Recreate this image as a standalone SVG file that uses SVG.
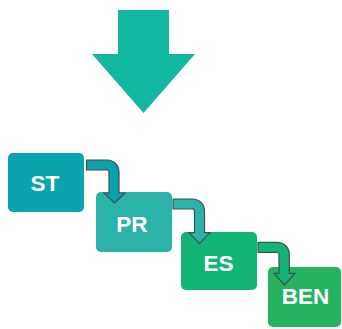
<svg xmlns="http://www.w3.org/2000/svg" width="342" height="329" viewBox="0 0 342 329">
  <style>
    .box { stroke: none; }
    .lbl { font-family: "Liberation Sans", Arial, sans-serif; font-weight: bold; font-size: 22.5px; fill: #ffffff; text-anchor: middle; }
    .conn { stroke: #3d5053; stroke-width: 1.2; stroke-linejoin: miter; }
  </style>

  <!-- big downward arrow -->
  <g id="main-arrow">
    <polygon points="118,10 169,10 169,54 195,54 143.5,113 92,54 118,54" fill="#12b9a0"/>
  </g>

  <!-- stages -->
  <g id="node-st">
    <rect class="box" x="8" y="153" width="76" height="59" rx="5" fill="#0aa3ae"/>
    <text class="lbl" x="45" y="190.5">ST</text>
  </g>
  <g id="node-pr">
    <rect class="box" x="96" y="192" width="76" height="60" rx="5" fill="#2cb3a7"/>
    <text class="lbl" x="132" y="231.5">PR</text>
  </g>
  <g id="node-es">
    <rect class="box" x="181" y="232" width="76" height="58" rx="5" fill="#13b576"/>
    <text class="lbl" x="218.5" y="271">ES</text>
  </g>
  <g id="node-ben">
    <rect class="box" x="268" y="267" width="73" height="60" rx="5" fill="#26b35f"/>
    <text class="lbl" x="305.5" y="303.5">BEN</text>
  </g>

  <!-- bent connectors between stages -->
  <g id="connectors">
    <path class="conn" fill="#0ba1ae" d="M86.5,160 H107 A12,12 0 0 1 119,172 V193 H125 L114.5,203 L104,193 H109 V172 A2,2 0 0 0 107,170 H86.5 Z"/>
    <path class="conn" fill="#2cb3a7" d="M173,199 H192 A12,12 0 0 1 204.5,211.5 V232.7 H210 L199.5,243.3 L189,232.7 H194.5 V211.5 A2,2 0 0 0 192,209 H173 Z"/>
    <path class="conn" fill="#13b576" d="M258,242.3 H277 A12,12 0 0 1 289.3,254.5 V273.3 H295 L284.5,285 L274,273.3 H279 V254.5 A2,2 0 0 0 277,252.3 H258 Z"/>
  </g>
</svg>
